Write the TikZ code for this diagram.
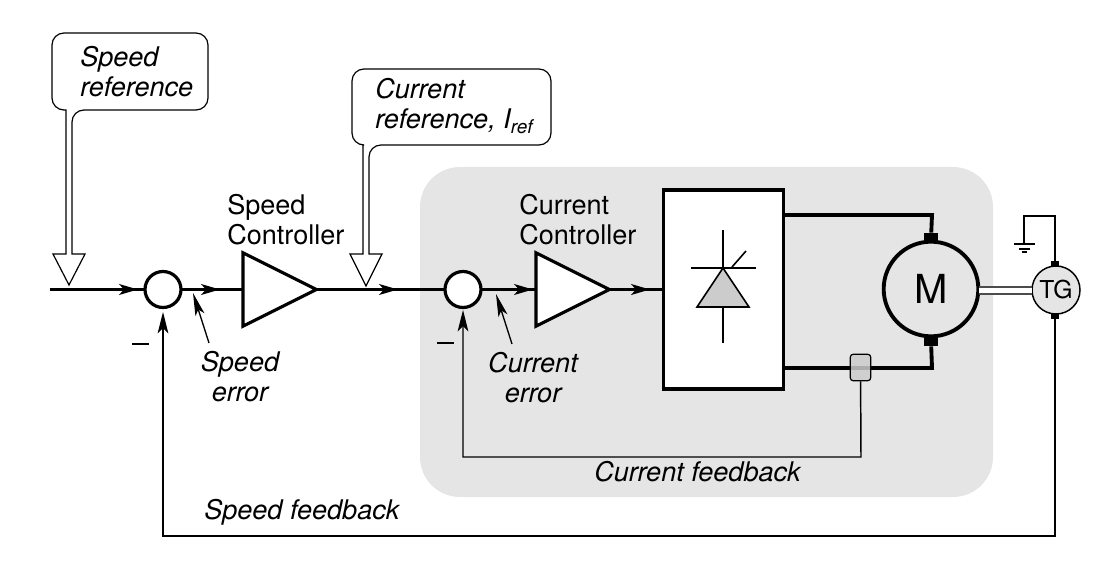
\documentclass[tikz,border=0pt]{standalone}
\usepackage{fontspec}
\setmainfont{TeX Gyre Heros}
\usetikzlibrary{shapes,arrows.meta}
\definecolor{drive_gray}{RGB}{229,229,229}
\definecolor{scr_gray}{RGB}{204,204,204}
\tikzstyle{sig}=[line width=2.4pt]
\tikzstyle{pwr}=[line width=2.9pt]
\tikzstyle{fb}=[line width=1.1pt]
\tikzstyle{tip}=[-{Stealth[length=14pt,width=8pt,inset=3.5pt]}]
\tikzstyle{fbtip}=[-{Stealth[length=16pt,width=8pt,inset=4pt]}]
\tikzstyle{ptr}=[line width=1pt,-{Stealth[length=17pt,width=7pt,inset=4pt]}]
\tikzstyle{sumn}=[circle,fill=white,draw=black,line width=2.4pt,inner sep=0pt,outer sep=0pt,minimum size=27pt]
\tikzstyle{amp}=[isosceles triangle,isosceles triangle stretches,fill=white,draw=black,line width=2.4pt,
  inner sep=0pt,outer sep=0pt,minimum width=55pt,minimum height=55pt,anchor=lower side]
\tikzstyle{lab}=[font=\fontsize{20.3}{22.5}\selectfont,align=left,inner sep=0pt]
\tikzstyle{itlab}=[lab,font=\fontsize{20.3}{22.5}\selectfont\itshape]
\tikzstyle{hollow}=[draw=black,line width=0.9pt,fill=white]
\tikzstyle{brush}=[fill=black,inner sep=0pt,outer sep=0pt]
\tikzstyle{pt}=[inner sep=0pt,outer sep=0pt,minimum size=0pt]
\begin{document}
\begin{tikzpicture}[x=0.75pt,y=-0.75pt]
        \useasboundingbox (0,0) rectangle (1099,563);
        \fill [drive_gray,rounded corners=30pt] (420,167) rectangle (993,497);
        % reference call-outs
        \draw [style=hollow] (66,254) -- (66,110) [rounded corners=9pt] -- (52,110) -- (52,33) -- (208,33) -- (208,110) -- (72,110) [sharp corners] -- (72,254) -- (85,254) -- (69,285) -- (53,254) -- cycle;
        \draw [style=hollow] (363,254) -- (363,145) [rounded corners=9pt] -- (352,145) -- (352,69) -- (551,69) -- (551,145) -- (369,145) [sharp corners] -- (369,254) -- (382,254) -- (366,286) -- (350,254) -- cycle;
        \node [style=itlab,anchor=west] (sr) at (80,72) {Speed\\reference};
        \node [style=itlab,anchor=west] (cr) at (375,106) {Current\\reference, \textit{I}\textsubscript{ref}};
        % forward path
        \node [style=pt] (in) at (50,289.5) {};
        \node [style=sumn] (s1) at (163,289.5) {};
        \node [style=amp] (a1) at (243,289.5) {};
        \node [style=sumn] (s2) at (463,289.5) {};
        \node [style=amp] (a2) at (536,289.5) {};
        \draw [style=sig] (a1.apex) to (s2);
        \draw [style=sig] (in) to (s1);
        \draw [style=sig] (s1) to (a1.lower side);
        \draw [style=sig] (s2) to (a2.lower side);
        \node [style=pt] (t1) at (138,289.5) {};
        \node [style=pt] (t2) at (220,289.5) {};
        \node [style=pt] (t3) at (398,289.5) {};
        \node [style=pt] (t4) at (533,289.5) {};
        \node [style=pt] (t5) at (650,289.5) {};
        \draw [style=sig,style=tip] (in) to (t1);
        \draw [style=sig,style=tip] (s1) to (t2);
        \draw [style=sig,style=tip] (a1.apex) to (t3);
        \draw [style=sig,style=tip] (s2) to (t4);
        \draw [style=sig,style=tip] (a2.apex) to (t5);
        \node [style=lab,anchor=west] (sc) at (227,220) {Speed\\Controller};
        \node [style=lab,anchor=west] (ccl) at (519,220) {Current\\Controller};
        % converter
        \node [draw=black,fill=white,line width=2.9pt,inner sep=0pt,outer sep=0pt,minimum width=90pt,minimum height=149pt] (conv) at (723.5,289.5) {};
        \draw [style=sig] (a2.apex) to (conv);
        \node [style=pt] (ka) at (723,230) {};
        \node [style=pt] (kb) at (723,268) {};
        \node [style=pt] (kl) at (691,268) {};
        \node [style=pt] (kr) at (756,268) {};
        \node [style=pt] (gb) at (732,267) {};
        \node [style=pt] (gt) at (746,251) {};
        \node [style=pt] (dl) at (697,307) {};
        \node [style=pt] (dr) at (749,307) {};
        \node [style=pt] (dm) at (723,307) {};
        \node [style=pt] (db) at (723,343) {};
        \draw [line width=1.2pt,fill=scr_gray] (kb.center) -- (dl.center) -- (dr.center) -- cycle;
        \draw [line width=1.2pt] (ka) to (kb);
        \draw [line width=1.2pt] (kl) to (kr);
        \draw [line width=1.2pt] (gb) to (gt);
        \draw [line width=1.2pt] (dm) to (db);
        % motor and tacho
        \node [circle,draw=black,line width=2.9pt,inner sep=0pt,outer sep=0pt,minimum size=71pt,font=\fontsize{30}{30}\selectfont] (m) at (931,289) {M};
        \node [style=brush,minimum width=11pt,minimum height=8pt] (bt) at (931,238) {};
        \node [style=brush,minimum width=11pt,minimum height=8pt] (bb) at (931,341) {};
        \node [style=pt] (ct) at (932,215) {};
        \node [style=pt] (cb) at (932,368) {};
        \node [style=pt] (ot) at (785,215) {};
        \node [style=pt] (ob) at (785,368) {};
        \node [circle,draw=black,fill=drive_gray,line width=1.1pt,inner sep=0pt,outer sep=0pt,minimum size=36pt,font=\fontsize{18.5}{18.5}\selectfont] (tg) at (1056,290) {TG};
        \node [style=brush,minimum width=6pt,minimum height=4pt] (gt1) at (1055,264) {};
        \node [style=brush,minimum width=6pt,minimum height=4pt] (gb1) at (1055,316) {};
        \draw [style=pwr] (ot) -- (ct.center) -- (bt);
        \draw [style=pwr] (ob) -- (cb.center) -- (bb);
        \fill [white] (979,288) rectangle (1032,293);
        \draw [line width=1.1pt,black!70] (979,287) -- (1032,287);
        \draw [line width=1.1pt,black!70] (979,294) -- (1032,294);
        % current sense
        \node [draw=black,fill=scr_gray,fill opacity=0.85,rounded corners=2.5pt,line width=0.9pt,inner sep=0pt,minimum width=15.5pt,minimum height=20pt] (cs1) at (860.5,367.5) {};
        % ground
        \node [style=pt] (gw) at (1024,216) {};
        \node [style=pt] (gn) at (1024,244) {};
        \draw [line width=1pt] (gt1) -- (gt1 |- gw) -- (gw.center) -- (gn);
        \draw [line width=0.8pt] (1014,244) -- (1035,244);
        \draw [line width=0.8pt] (1019,249) -- (1030,249);
        \draw [line width=0.8pt] (1022,252) -- (1027,252);
        % feedback
        \node [style=pt] (fc) at (861,457) {};
        \node [style=pt] (fs) at (1055,536) {};
        \node [style=pt] (f1) at (163,312) {};
        \node [style=pt] (f2) at (463,310) {};
        \draw [style=fb,style=fbtip] (cs1) -- (fc.center) -- (fc -| s2) -- (f2);
        \draw [style=fb,style=fbtip] (gb1) -- (fs.center) -- (fs -| s1) -- (f1);
        \node [fill=black,inner sep=0pt,minimum width=13pt,minimum height=1pt] (mn1) at (140.5,344) {};
        \node [fill=black,inner sep=0pt,minimum width=13pt,minimum height=1pt] (mn2) at (445.5,343) {};
        % error pointers
        \node [style=pt] (e1a) at (209,343) {};
        \node [style=pt] (e1b) at (193,293) {};
        \node [style=pt] (e2a) at (512,344) {};
        \node [style=pt] (e2b) at (496,294) {};
        \draw [style=ptr] (e1a) to (e1b);
        \draw [style=ptr] (e2a) to (e2b);
        \node [style=itlab,align=center] (se) at (240,377) {Speed\\error};
        \node [style=itlab,align=center] (ce) at (533,378) {Current\\error};
        \node [style=itlab,anchor=west] (cf) at (594,472) {Current feedback};
        \node [style=itlab,anchor=west] (sf) at (204,512) {Speed feedback};
    \end{tikzpicture}
\end{document}
